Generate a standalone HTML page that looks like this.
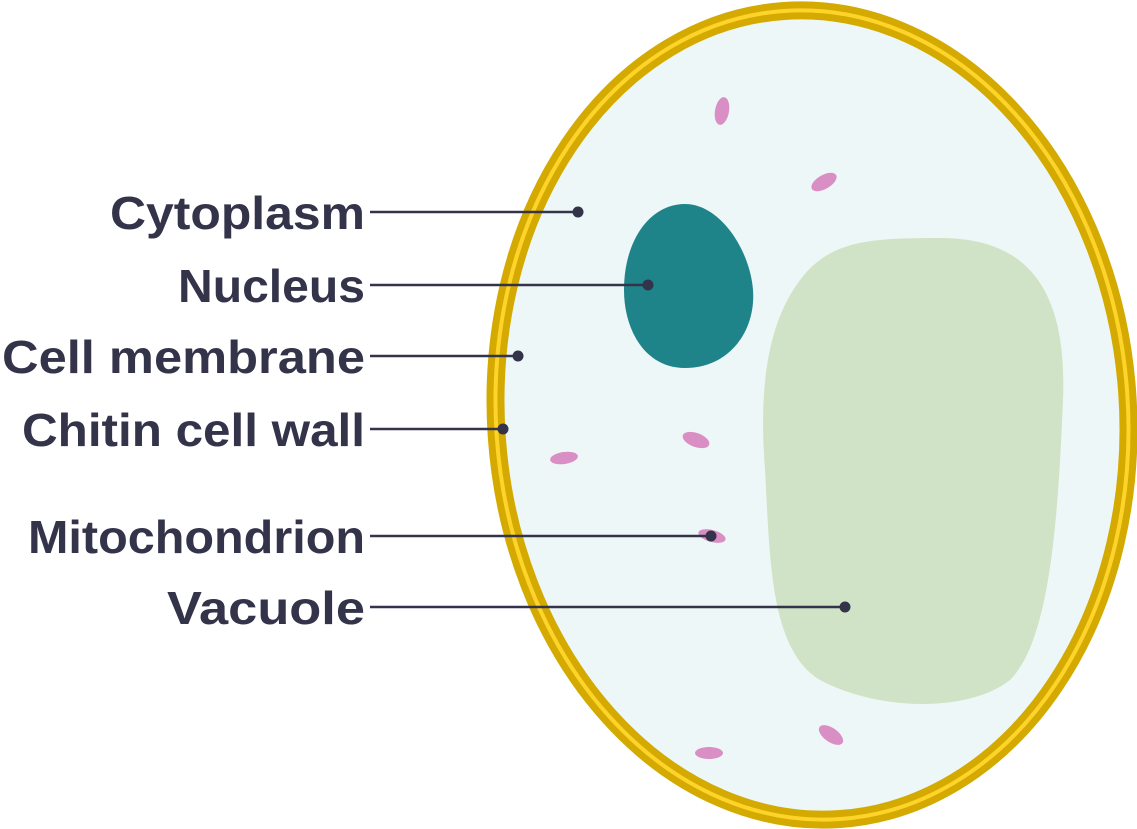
<!DOCTYPE html>
<html><head><style>
html,body{margin:0;padding:0;background:#fff;}
svg{display:block;}
text{font-family:"Liberation Sans",sans-serif;font-weight:bold;font-size:46px;fill:#33334A;}
</style></head><body>
<svg width="1137" height="829" viewBox="0 0 1137 829">
<g transform="rotate(-4 812 415)">
<ellipse cx="812" cy="415" rx="316" ry="405" fill="#EEF7F8" stroke="#D4AA00" stroke-width="18"/>
<ellipse cx="812" cy="415" rx="316" ry="405" fill="none" stroke="#FFD42A" stroke-width="4"/>
</g>
<path d="M685 204 C720 204 750 250 753 290 C756 330 730 368 685 368 C645 368 624 330 624 290 C624 240 650 204 685 204 Z" fill="#1E848A"/>
<path d="M940 238 C1020 238 1068 280 1063 400 C1058 520 1050 640 1010 680 C970 712 880 712 820 680 C770 650 770 560 765 470 C758 380 770 320 800 280 C830 240 870 238 940 238 Z" fill="#D0E3C7"/>
<g fill="#D98FC4">
<ellipse cx="722" cy="111" rx="7" ry="14" transform="rotate(10 722 111)"/>
<ellipse cx="824" cy="182" rx="14" ry="7" transform="rotate(-30 824 182)"/>
<ellipse cx="696" cy="440" rx="14" ry="7" transform="rotate(20 696 440)"/>
<ellipse cx="564" cy="458" rx="14" ry="6" transform="rotate(-8 564 458)"/>
<ellipse cx="712" cy="536" rx="14" ry="6" transform="rotate(15 712 536)"/>
<ellipse cx="831" cy="735" rx="14" ry="7" transform="rotate(35 831 735)"/>
<ellipse cx="709" cy="753" rx="14" ry="6"/>
</g>
<g stroke="#33334A" stroke-width="2.5" fill="none">
<line x1="370" y1="212" x2="578" y2="212"/>
<line x1="370" y1="285" x2="648" y2="285"/>
<line x1="370" y1="356" x2="518" y2="356"/>
<line x1="370" y1="429" x2="503" y2="429"/>
<line x1="370" y1="536" x2="711" y2="536"/>
<line x1="370" y1="607" x2="845" y2="607"/>
</g>
<g fill="#33334A">
<circle cx="578" cy="212" r="5.5"/><circle cx="648" cy="285" r="5.5"/>
<circle cx="518" cy="356" r="5.5"/><circle cx="503" cy="429" r="5.5"/>
<circle cx="711" cy="536" r="5.5"/><circle cx="845" cy="607" r="5.5"/>
</g>
<g>
<text x="110" y="229" textLength="255" lengthAdjust="spacingAndGlyphs">Cytoplasm</text>
<text x="178" y="302" textLength="187" lengthAdjust="spacingAndGlyphs">Nucleus</text>
<text x="2" y="373" textLength="363" lengthAdjust="spacingAndGlyphs">Cell membrane</text>
<text x="22" y="446" textLength="343" lengthAdjust="spacingAndGlyphs">Chitin cell wall</text>
<text x="28" y="553" textLength="337" lengthAdjust="spacingAndGlyphs">Mitochondrion</text>
<text x="167" y="624" textLength="198" lengthAdjust="spacingAndGlyphs">Vacuole</text>
</g>
</svg>
</body></html>
